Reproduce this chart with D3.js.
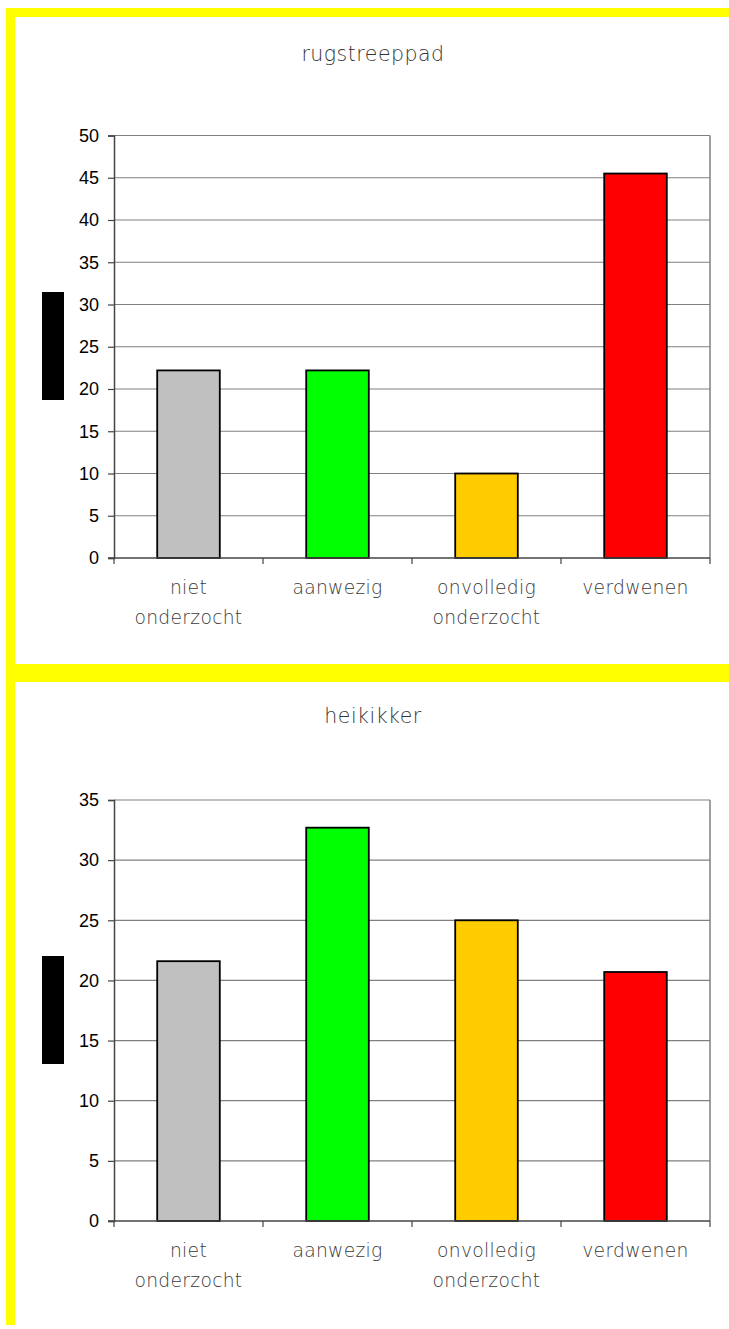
<!DOCTYPE html>
<html><head><meta charset="utf-8">
<script src="https://cdn.jsdelivr.net/npm/d3@7"></script>
<style>body{margin:0;background:#fff;}svg{display:block;}</style>
</head><body>
<script>
const categories = [["niet","onderzocht"],["aanwezig"],["onvolledig","onderzocht"],["verdwenen"]];
const barColors = ["#C0C0C0","#00FF00","#FFCC00","#FF0000"];
const titles = ["rugstreeppad","heikikker"];
const rugstreeppadValues = [22.2, 22.2, 10.0, 45.5];
const heikikkerValues = [21.6, 32.7, 25.0, 20.7];
const rugstreeppadTicks = [0,5,10,15,20,25,30,35,40,45,50];
const heikikkerTicks = [0,5,10,15,20,25,30,35];

const W = 729, H = 1329;
const svg = d3.select("body").append("svg").attr("width", W).attr("height", H);
const lightFont = "'DejaVu Sans ExtraLight','DejaVu Sans',sans-serif";

// yellow frame
const yellow = "#FFFF00";
svg.append("rect").attr("x",6).attr("y",8).attr("width",W-6).attr("height",9).attr("fill",yellow);
svg.append("rect").attr("x",6).attr("y",8).attr("width",9).attr("height",H-12).attr("fill",yellow);
svg.append("rect").attr("x",6).attr("y",664).attr("width",W-6).attr("height",18).attr("fill",yellow);

function drawChart(cfg){
  const g = svg.append("g");
  const x = d3.scaleBand().domain(d3.range(categories.length)).range([114,710]).paddingInner(0).paddingOuter(0);
  const y = d3.scaleLinear().domain([0, d3.max(cfg.ticks)]).range([cfg.bottom, cfg.top]);

  g.append("text").attr("x",373).attr("y",cfg.titleY).attr("text-anchor","middle")
    .attr("font-family",lightFont).attr("font-weight",200).attr("letter-spacing",0.5)
    .attr("font-size",20.5).attr("fill","#333").text(cfg.title);

  // gridlines
  g.append("g").selectAll("line").data(cfg.ticks.filter(t=>t>0)).join("line")
    .attr("x1",114).attr("x2",710).attr("y1",d=>y(d)).attr("y2",d=>y(d))
    .attr("stroke","#808080").attr("stroke-width",1.2);
  // right border
  g.append("line").attr("x1",710).attr("x2",710).attr("y1",cfg.top).attr("y2",cfg.bottom)
    .attr("stroke","#808080").attr("stroke-width",1.5);

  // y axis
  const ya = g.append("g").attr("transform","translate(114,0)")
    .call(d3.axisLeft(y).tickValues(cfg.ticks).tickSize(6).tickPadding(9));
  ya.select(".domain").attr("stroke","#444").attr("stroke-width",1.5);
  ya.selectAll(".tick line").attr("stroke","#444").attr("stroke-width",1.2);
  ya.selectAll(".tick text").attr("font-family","'Liberation Sans',Arial,sans-serif")
    .attr("font-size",18).attr("fill","#000");

  // bars
  const bw = x.bandwidth()*0.42;
  g.append("g").selectAll("rect").data(cfg.values).join("rect")
    .attr("x",(d,i)=>x(i)+x.bandwidth()/2-bw/2).attr("width",bw)
    .attr("y",d=>y(d)).attr("height",d=>y(0)-y(d))
    .attr("fill",(d,i)=>barColors[i]).attr("stroke","#000").attr("stroke-width",1.8);

  // x axis
  const xa = g.append("g").attr("transform",`translate(0,${cfg.bottom})`);
  xa.append("line").attr("x1",108).attr("x2",710).attr("stroke","#444").attr("stroke-width",1.5);
  xa.selectAll(".xt").data(d3.range(categories.length+1)).join("line").attr("class","xt")
    .attr("x1",i=>114+i*x.bandwidth()).attr("x2",i=>114+i*x.bandwidth())
    .attr("y1",0).attr("y2",6).attr("stroke","#444").attr("stroke-width",1.2);
  const lab = xa.selectAll(".lab").data(categories).join("text").attr("class","lab")
    .attr("text-anchor","middle").attr("font-family",lightFont)
    .attr("font-weight",200).attr("letter-spacing",0.3).attr("font-size",18.7).attr("fill","#3a3a3a");
  lab.each(function(lines,i){
    const t = d3.select(this);
    lines.forEach((l,k)=>{
      t.append("tspan").attr("x",x(i)+x.bandwidth()/2).attr("y",36+k*30).text(l);
    });
  });

  // black marker
  g.append("rect").attr("x",42).attr("y",cfg.markY).attr("width",22).attr("height",108).attr("fill","#000");
}

drawChart({title:titles[0], values:rugstreeppadValues, ticks:rugstreeppadTicks, top:135.5, bottom:558, titleY:61, markY:292});
drawChart({title:titles[1], values:heikikkerValues, ticks:heikikkerTicks, top:800, bottom:1221, titleY:723, markY:956});
</script>
</body></html>
